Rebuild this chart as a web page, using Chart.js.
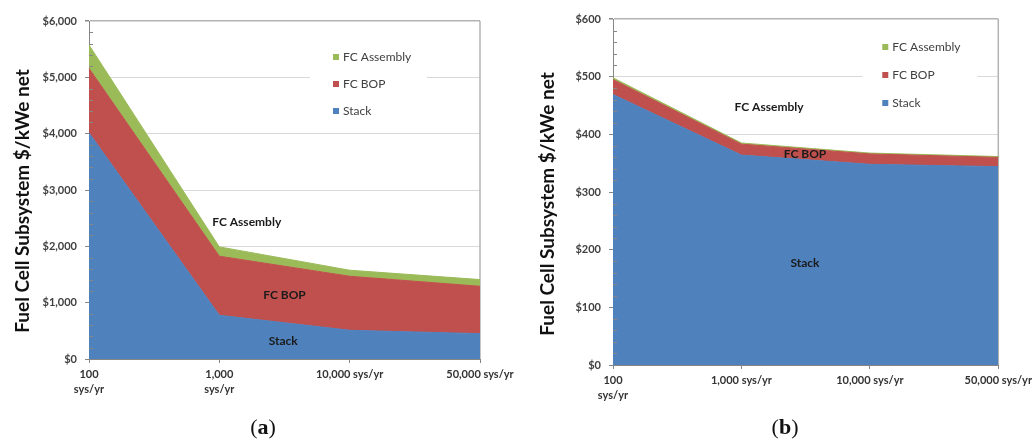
<!DOCTYPE html>
<html>
<head>
<meta charset="utf-8">
<title>Fuel Cell Subsystem Cost</title>
<script src="https://cdn.jsdelivr.net/npm/chart.js@4.4.1/dist/chart.umd.min.js"></script>
<style>
  html, body { margin: 0; padding: 0; background: #ffffff; }
  body { width: 1036px; height: 441px; position: relative; overflow: hidden; }
  .panel { position: absolute; top: 0; height: 441px; }
  #panelA { left: 0; width: 520px; }
  #panelB { left: 520px; width: 516px; }
  .caption {
    position: absolute; top: 414px; line-height: 26px;
    font-family: "Liberation Serif", "DejaVu Serif", serif; font-size: 22px; color: #111;
    transform: translateX(-50%); white-space: nowrap;
  }
</style>
</head>
<body>
<div class="panel" id="panelA"><canvas id="chartA"></canvas></div>
<div class="panel" id="panelB"><canvas id="chartB"></canvas></div>
<div class="caption" style="left:263px">(<b>a</b>)</div>
<div class="caption" style="left:785px">(<b>b</b>)</div>

<script>
// ---- data -------------------------------------------------------------
const seriesNames = ['Stack', 'FC BOP', 'FC Assembly'];

// (a) $/kWe net
const categoriesA = [['100', 'sys/yr'], ['1,000', 'sys/yr'], '10,000 sys/yr', '50,000 sys/yr'];
const stackA    = [4015, 776, 510, 450];
const bopA      = [1145, 1049, 959, 841];
const assemblyA = [415, 165, 107, 119];
const yTicksA   = { max: 6000, major: 1000, minor: 200 };

// (b) $/kWe net
const categoriesB = [['100', 'sys/yr'], '1,000 sys/yr', '10,000 sys/yr', '50,000 sys/yr'];
const stackB    = [469, 364, 348, 344];
const bopB      = [26, 19, 18, 16];
const assemblyB = [3, 2, 1.5, 1.5];
const yTicksB   = { max: 600, major: 100, minor: 20 };

const yTitle = 'Fuel Cell Subsystem $/kWe net';

// ---- styling ------------------------------------------------------------
const SERIES_COLORS = ['#4F81BD', '#C0504D', '#9BBB59'];
const AXIS_GREY  = '#868686';
const GRID_GREY  = '#d9d9d9';
const FRAME_GREY = '#b3b3b3';
const FONT = "Lato, 'Open Sans', sans-serif";

Chart.defaults.font.family = FONT;
Chart.defaults.animation = false;

const fmtDollar = v => '$' + v.toLocaleString('en-US');

function buildChart(canvasId, p) {
  const values = [p.stack, p.bop, p.assembly];
  const datasets = values.map((data, i) => ({
    label: seriesNames[i],
    data,
    backgroundColor: SERIES_COLORS[i],
    borderColor: SERIES_COLORS[i],
    borderWidth: 1,
    pointRadius: 0,
    pointHoverRadius: 0,
    tension: 0,
    fill: i === 0 ? 'origin' : '-1'
  }));

  // right-hand edge of the plot frame
  const frame = {
    id: 'frame',
    beforeDatasetsDraw(chart) {
      const { ctx, chartArea: a } = chart;
      ctx.save();
      ctx.strokeStyle = FRAME_GREY;
      ctx.lineWidth = 1.5;
      ctx.beginPath();
      ctx.moveTo(a.right, a.top);
      ctx.lineTo(a.right, a.bottom);
      ctx.stroke();
      ctx.restore();
    }
  };

  // short inner minor ticks along the value axis
  const minorTicks = {
    id: 'minorTicks',
    afterDatasetsDraw(chart) {
      const { ctx, chartArea: a } = chart;
      const y = chart.scales.y;
      ctx.save();
      ctx.strokeStyle = AXIS_GREY;
      ctx.lineWidth = 1;
      ctx.beginPath();
      for (let v = p.ticks.minor; v < p.ticks.max; v += p.ticks.minor) {
        if (Math.abs(v % p.ticks.major) < 1e-9) continue;
        const py = Math.round(y.getPixelForValue(v)) + 0.5;
        ctx.moveTo(a.left, py);
        ctx.lineTo(a.left + 4, py);
      }
      ctx.stroke();
      ctx.restore();
    }
  };

  // series names written onto the areas
  const areaText = {
    id: 'areaText',
    afterDatasetsDraw(chart) {
      const { ctx } = chart;
      const x = chart.scales.x, y = chart.scales.y;
      ctx.save();
      ctx.font = `bold 12px ${FONT}`;
      ctx.fillStyle = '#1a1a1a';
      ctx.textAlign = 'center';
      ctx.textBaseline = 'middle';
      p.areaText.forEach(t => {
        ctx.fillText(t.text, x.getPixelForValue(t.at[0]), y.getPixelForValue(t.at[1]));
      });
      ctx.restore();
    }
  };

  // legend box inside the plot, top-right, topmost series first
  const boxLegend = {
    id: 'boxLegend',
    afterDraw(chart) {
      const { ctx, chartArea: a } = chart;
      const L = p.legend;
      ctx.save();
      ctx.fillStyle = '#ffffff';
      ctx.fillRect(a.right - L.fromRight, a.top + L.boxTop, L.boxWidth, L.boxHeight);
      ctx.font = `12px ${FONT}`;
      ctx.textBaseline = 'middle';
      ctx.textAlign = 'left';
      const items = chart.data.datasets.slice().reverse();
      items.forEach((ds, i) => {
        const cy = a.top + L.firstRow + i * L.rowGap;
        const mx = a.right - L.markerFromRight;
        ctx.fillStyle = ds.backgroundColor;
        ctx.fillRect(mx, cy - 3, 6, 6);
        ctx.fillStyle = '#404040';
        ctx.fillText(ds.label, mx + 10, cy + 0.5);
      });
      ctx.restore();
    }
  };

  // rotated value-axis title
  const axisTitle = {
    id: 'axisTitle',
    afterDraw(chart) {
      const { ctx, chartArea: a } = chart;
      ctx.save();
      ctx.translate(p.titleX, (a.top + a.bottom) / 2 + p.titleShift);
      ctx.rotate(-Math.PI / 2);
      ctx.font = `bold 19px ${FONT}`;
      ctx.fillStyle = '#111111';
      ctx.textAlign = 'center';
      ctx.textBaseline = 'middle';
      ctx.fillText(yTitle, 0, 0);
      ctx.restore();
    }
  };

  return new Chart(document.getElementById(canvasId), {
    type: 'line',
    data: { labels: p.labels, datasets },
    options: {
      responsive: true,
      maintainAspectRatio: false,
      devicePixelRatio: 1,
      events: [],
      layout: { padding: p.padding },
      plugins: {
        legend: { display: false },
        tooltip: { enabled: false },
        title: { display: false }
      },
      scales: {
        x: {
          offset: false,
          afterFit: s => { s.height = 46; },
          border: { color: AXIS_GREY, width: 1 },
          grid: { drawOnChartArea: false, drawTicks: true, tickLength: 4, tickColor: AXIS_GREY },
          ticks: {
            autoSkip: false, maxRotation: 0, minRotation: 0, padding: 4,
            color: '#333333',
            font: { size: 11, weight: 'bold', lineHeight: 1.35 }
          }
        },
        y: {
          stacked: true,
          min: 0,
          max: p.ticks.max,
          afterFit: s => { s.width = p.axisWidth; },
          border: { color: AXIS_GREY, width: 1 },
          grid: {
            color: c => (c.tick && c.tick.value === p.ticks.max ? FRAME_GREY : GRID_GREY),
            lineWidth: c => (c.tick && c.tick.value === p.ticks.max ? 1.5 : 1),
            tickLength: 4,
            tickColor: AXIS_GREY
          },
          ticks: {
            stepSize: p.ticks.major,
            autoSkip: false,
            padding: 8,
            color: '#404040',
            font: { size: 11, weight: 'bold' },
            callback: v => fmtDollar(v)
          }
        }
      }
    },
    plugins: [frame, minorTicks, areaText, boxLegend, axisTitle]
  });
}

buildChart('chartA', {
  labels: categoriesA,
  stack: stackA, bop: bopA, assembly: assemblyA,
  ticks: yTicksA,
  axisWidth: 89,
  padding: { left: 0, top: 21, right: 40, bottom: 36 },
  titleX: 23, titleShift: 11,
  areaText: [
    { text: 'FC Assembly', at: [1.21, 2430] },
    { text: 'FC BOP',      at: [1.50, 1136] },
    { text: 'Stack',       at: [1.49, 320] }
  ],
  legend: { fromRight: 170, boxTop: 20, boxWidth: 117, boxHeight: 86,
            markerFromRight: 147, firstRow: 36, rowGap: 27 }
});

buildChart('chartB', {
  labels: categoriesB,
  stack: stackB, bop: bopB, assembly: assemblyB,
  ticks: yTicksB,
  axisWidth: 93,
  padding: { left: 0, top: 19, right: 37, bottom: 30 },
  titleX: 28, titleShift: 12,
  areaText: [
    { text: 'FC Assembly', at: [1.215, 447] },
    { text: 'FC BOP',      at: [1.495, 366] },
    { text: 'Stack',       at: [1.495, 177] }
  ],
  legend: { fromRight: 136, boxTop: 12, boxWidth: 115, boxHeight: 88,
            markerFromRight: 116, firstRow: 28, rowGap: 28 }
});
</script>
</body>
</html>
